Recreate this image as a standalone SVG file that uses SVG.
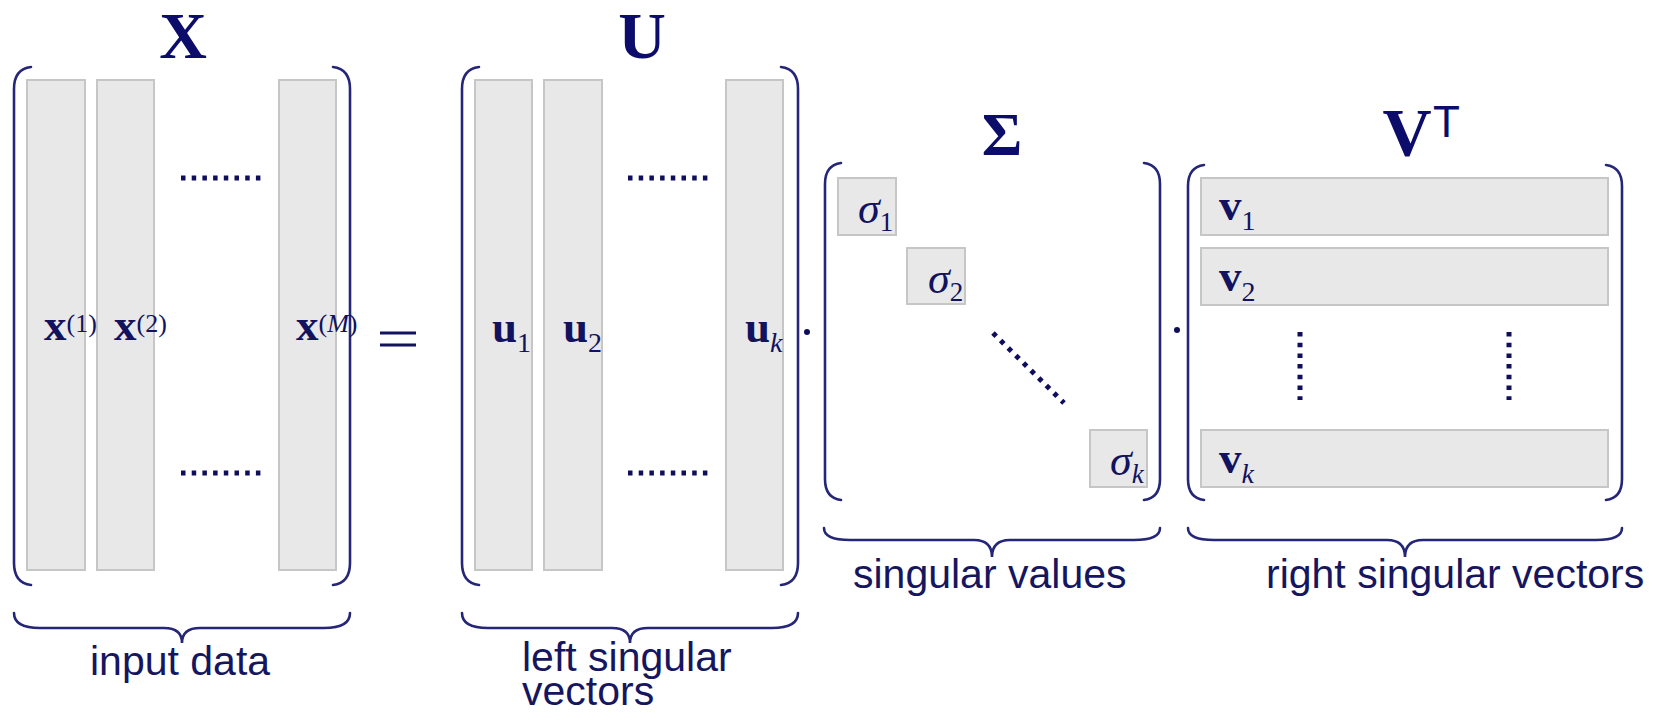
<svg xmlns="http://www.w3.org/2000/svg" width="1656" height="712" viewBox="0 0 1656 712">
<style>
.cell{fill:#e8e8e8;stroke:#c6c6c6;stroke-width:2}
.br{fill:none;stroke:#262678;stroke-width:2.6;stroke-linecap:round}
.dots{fill:none;stroke:#0e0e5c;stroke-width:5;stroke-dasharray:4.5 6.2}
.title{font-family:"Liberation Serif",serif;font-weight:bold;fill:#0c0c6a;text-anchor:middle}
.m{font-family:"Liberation Serif",serif;fill:#12125e}
.b{font-weight:bold}
.i{font-style:italic}
.lab{font-family:"Liberation Sans",Arial,sans-serif;font-size:41px;fill:#161660}
</style>
<rect width="1656" height="712" fill="#ffffff"/>

<g id="matrix-X">
  <text class="title" x="183" y="58" font-size="66">X</text>
  <path class="br" d="M31,67 Q14,69 14,89 V563 Q14,583 31,585"/>
  <path class="br" d="M333,67 Q350,69 350,89 V563 Q350,583 333,585"/>
  <rect class="cell" x="27" y="80" width="58" height="490"/>
  <rect class="cell" x="97" y="80" width="57" height="490"/>
  <rect class="cell" x="279" y="80" width="57" height="490"/>
  <line class="dots" x1="181" y1="178" x2="262" y2="178"/>
  <line class="dots" x1="181" y1="473" x2="262" y2="473"/>
  <text class="m" x="44" y="340" font-size="45"><tspan class="b">x</tspan><tspan font-size="26" dy="-8">(1)</tspan></text>
  <text class="m" x="114" y="340" font-size="45"><tspan class="b">x</tspan><tspan font-size="26" dy="-8">(2)</tspan></text>
  <text class="m" x="296" y="340" font-size="45"><tspan class="b">x</tspan><tspan font-size="26" dy="-8">(<tspan class="i">M</tspan>)</tspan></text>
</g>

<g id="equals">
  <line x1="380" y1="333" x2="416" y2="333" stroke="#12125e" stroke-width="3"/>
  <line x1="380" y1="345" x2="416" y2="345" stroke="#12125e" stroke-width="3"/>
</g>

<g id="matrix-U">
  <text class="title" x="642" y="58" font-size="66">U</text>
  <path class="br" d="M479,67 Q462,69 462,89 V563 Q462,583 479,585"/>
  <path class="br" d="M781,67 Q798,69 798,89 V563 Q798,583 781,585"/>
  <rect class="cell" x="475" y="80" width="57" height="490"/>
  <rect class="cell" x="544" y="80" width="58" height="490"/>
  <rect class="cell" x="726" y="80" width="57" height="490"/>
  <line class="dots" x1="628" y1="178" x2="709" y2="178"/>
  <line class="dots" x1="628" y1="473" x2="709" y2="473"/>
  <text class="m" x="492" y="342" font-size="45"><tspan class="b">u</tspan><tspan font-size="28" dy="10">1</tspan></text>
  <text class="m" x="563" y="342" font-size="45"><tspan class="b">u</tspan><tspan font-size="28" dy="10">2</tspan></text>
  <text class="m" x="745" y="342" font-size="45"><tspan class="b">u</tspan><tspan class="i" font-size="28" dy="10">k</tspan></text>
</g>

<g id="dot-1"><circle cx="807" cy="332" r="3" fill="#0e0e5c"/></g>

<g id="matrix-Sigma">
  <text class="title" x="1002" y="155" font-size="62">Σ</text>
  <path class="br" d="M841,163 Q825,165 825,184 V479 Q825,498 841,500"/>
  <path class="br" d="M1144,163 Q1160,165 1160,184 V479 Q1160,498 1144,500"/>
  <rect class="cell" x="838" y="178" width="58" height="57"/>
  <rect class="cell" x="907" y="248" width="58" height="56"/>
  <rect class="cell" x="1090" y="430" width="57" height="57"/>
  <line class="dots" x1="993" y1="333" x2="1064" y2="403"/>
  <text class="m" x="858" y="223" font-size="44"><tspan class="i">σ</tspan><tspan font-size="27" dy="8">1</tspan></text>
  <text class="m" x="928" y="293" font-size="44"><tspan class="i">σ</tspan><tspan font-size="27" dy="8">2</tspan></text>
  <text class="m" x="1110" y="475" font-size="44"><tspan class="i">σ</tspan><tspan class="i" font-size="27" dy="8">k</tspan></text>
</g>

<g id="dot-2"><circle cx="1177" cy="330" r="3" fill="#0e0e5c"/></g>

<g id="matrix-VT">
  <text class="title" x="1407" y="155" font-size="68">V</text>
  <text x="1433" y="137" font-family="Liberation Sans,Arial,sans-serif" font-size="44" fill="#0c0c6a">T</text>
  <path class="br" d="M1204,165 Q1188,167 1188,186 V479 Q1188,498 1204,500"/>
  <path class="br" d="M1606,165 Q1622,167 1622,186 V479 Q1622,498 1606,500"/>
  <rect class="cell" x="1201" y="178" width="407" height="57"/>
  <rect class="cell" x="1201" y="248" width="407" height="57"/>
  <rect class="cell" x="1201" y="430" width="407" height="57"/>
  <line class="dots" x1="1300" y1="332" x2="1300" y2="400"/>
  <line class="dots" x1="1509" y1="332" x2="1509" y2="400"/>
  <text class="m" x="1219" y="220" font-size="45"><tspan class="b">v</tspan><tspan font-size="28" dy="10">1</tspan></text>
  <text class="m" x="1219" y="291" font-size="45"><tspan class="b">v</tspan><tspan font-size="28" dy="10">2</tspan></text>
  <text class="m" x="1219" y="473" font-size="45"><tspan class="b">v</tspan><tspan class="i" font-size="28" dy="10">k</tspan></text>
</g>

<g id="connectors">
  <path class="br" d="M14,613 Q14,628 40,628 H164 Q182,628 182,643 Q182,628 200,628 H324 Q350,628 350,613"/>
  <path class="br" d="M462,613 Q462,628 488,628 H612 Q630,628 630,643 Q630,628 648,628 H772 Q798,628 798,613"/>
  <path class="br" d="M824,528 Q824,540 850,540 H974 Q992,540 992,557 Q992,540 1010,540 H1134 Q1160,540 1160,528"/>
  <path class="br" d="M1188,528 Q1188,540 1214,540 H1387 Q1405,540 1405,557 Q1405,540 1423,540 H1596 Q1622,540 1622,528"/>
</g>

<g id="labels">
  <text class="lab" x="90" y="675">input data</text>
  <text class="lab" x="522" y="671">left singular</text>
  <text class="lab" x="522" y="705">vectors</text>
  <text class="lab" x="853" y="588">singular values</text>
  <text class="lab" x="1266" y="588">right singular vectors</text>
</g>
</svg>
